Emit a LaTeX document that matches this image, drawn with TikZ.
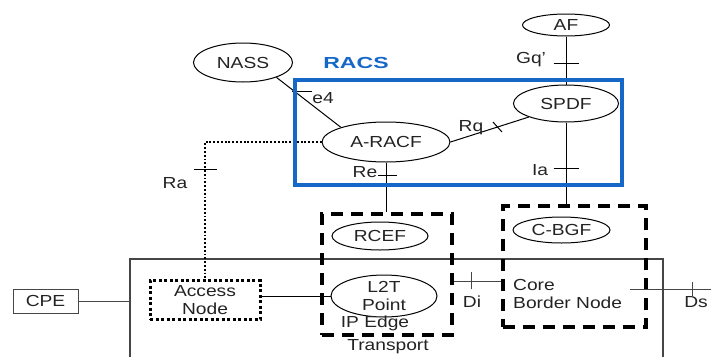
\documentclass[tikz,border=0pt]{standalone}
\usepackage{fontspec}
\setmainfont{Liberation Sans}[FakeStretch=1.2]
\usepackage{graphicx}
\usetikzlibrary{shapes.geometric,calc}
\definecolor{racsblue}{RGB}{22,104,200}
\definecolor{inkgray}{RGB}{35,35,35}
\definecolor{edgegray}{RGB}{70,70,70}

\begin{document}
\begin{tikzpicture}[x=1pt,y=-1pt,
  every node/.style={font=\fontsize{16}{18}\selectfont, text=inkgray},
  func/.style={draw, ellipse, line width=1pt, fill=white, inner sep=0pt},
  grp/.style={draw, line width=3.5pt, dash pattern=on 12pt off 8pt, inner sep=0pt},
  dotbox/.style={draw, line width=3pt, dash pattern=on 3pt off 2.5pt, inner sep=0pt, align=center},
  link/.style={line width=1pt},
  thinlink/.style={line width=0.9pt, edgegray},
  dotlink/.style={line width=1.9pt, dash pattern=on 1.9pt off 1.9pt},
  tick/.style={line width=1pt},
  lbl/.style={inner sep=0pt}
]
\useasboundingbox (0,0) rectangle (711,356);
\clip (0,0) rectangle (711,356);

% transport stratum outline (continues below the frame)
\node[draw=edgegray, line width=1.1pt, minimum width=533pt, minimum height=130pt, inner sep=0pt] (transport) at (396.5,324) {};
\node[lbl] (transportlbl) at (388,347) {Transport};

% customer equipment
\node[draw=edgegray, line width=1pt, minimum width=65pt, minimum height=24pt, inner sep=0pt] (cpe) at (45.5,301) {CPE};

% grouping boxes
\node[grp, minimum width=130pt, minimum height=121pt] (rcefbox) at (387,274.5) {};
\node[grp, minimum width=143pt, minimum height=121pt] (cbgfbox) at (574.5,266.5) {};
\node[dotbox, minimum width=110pt, minimum height=39pt] (access) at (205,300) {Access\\Node};

% functional entities
\node[func, minimum width=87pt, minimum height=22pt] (af) at (566,25) {AF};
\node[func, minimum width=105pt, minimum height=37pt] (spdf) at (566,103.5) {SPDF};
\node[func, minimum width=99pt, minimum height=39pt] (nass) at (243,62.5) {NASS};
\node[func, minimum width=128pt, minimum height=40pt] (aracf) at (386,142) {A-RACF};
\node[func, minimum width=96pt, minimum height=28pt] (rcef) at (380,236) {RCEF};
\node[func, minimum width=106pt, minimum height=42pt, align=center] (l2t) at (384,296) {L2T\\Point};
\node[func, minimum width=97pt, minimum height=26pt] (cbgf) at (561.5,230) {C-BGF};

\node[lbl] (ipedge) at (375,323) {IP Edge};
\node[lbl, anchor=west, align=left] (cbn) at (513,294) {Core\\Border Node};

% reference points
\draw[link] (af.south) -- coordinate[pos=0.56] (gq) (spdf.north);
\draw[link] (spdf.south) -- coordinate[pos=0.56] (ia) (spdf.south |- cbgfbox.north);
\draw[link] (nass.336) -- coordinate[pos=0.288] (e4) (aracf.162);
\draw[link] (aracf.east) -- coordinate[pos=0.6] (rq) (spdf.200);
\draw[link] (aracf.south) -- coordinate[pos=0.26] (re) (aracf.south |- rcefbox.north);
\draw[dotlink] (aracf.west) -| coordinate[pos=0.6] (ra) (access.north);
\draw[thinlink] (cpe.east) -- (cpe.east -| transport.west);
\draw[link] (l2t.west) -- (l2t.west -| access.east);
\draw[thinlink] ([yshift=-6.5pt]rcefbox.east) -- coordinate[pos=0.38] (di) ([yshift=-6.5pt]rcefbox.east -| cbgfbox.west);
\coordinate (dsstart) at (630,289);
\coordinate (dsend) at (711,289);
\draw[thinlink] (dsstart) -- coordinate[pos=0.77] (ds) (dsend);

% tick marks
\draw[tick] ([xshift=-12.5pt]gq) -- ([xshift=12.5pt]gq);
\draw[tick] ([xshift=-12.5pt]ia) -- ([xshift=12.5pt]ia);
\draw[tick] ([xshift=-3pt]e4) -- ([xshift=17pt]e4);
\draw[tick] ($(rq)+(-4.5,-5)$) -- ($(rq)+(4.5,5)$);
\draw[tick] ([xshift=-8pt]re) -- ([xshift=11pt]re);
\draw[tick] ([xshift=-11.5pt]ra) -- ([xshift=11.5pt]ra);
\draw[thinlink] ([yshift=9pt]di) -- ([yshift=-8pt]di);
\draw[thinlink] ([yshift=7pt]ds) -- ([yshift=-7pt]ds);

% reference point names
\node[lbl] (gqlbl) at (531,60) {Gq'};
\node[lbl] (ialbl) at (540,170) {Ia};
\node[lbl] (e4lbl) at (323,98) {e4};
\node[lbl] (rqlbl) at (471,128) {Rq};
\node[lbl] (relbl) at (365,172) {Re};
\node[lbl] (ralbl) at (175,183) {Ra};
\node[lbl] (dilbl) at (472,302) {Di};
\node[lbl] (dslbl) at (696,302) {Ds};

% RACS subsystem boundary
\node[draw=racsblue, line width=4pt, minimum width=327pt, minimum height=105pt, inner sep=0pt] (racs) at (458.5,132.5) {};
\node[lbl, text=racsblue, font=\fontsize{16}{18}\selectfont\bfseries] (racslbl) at (356,63) {\scalebox{1.2}[1]{RACS}};
\end{tikzpicture}
\end{document}
